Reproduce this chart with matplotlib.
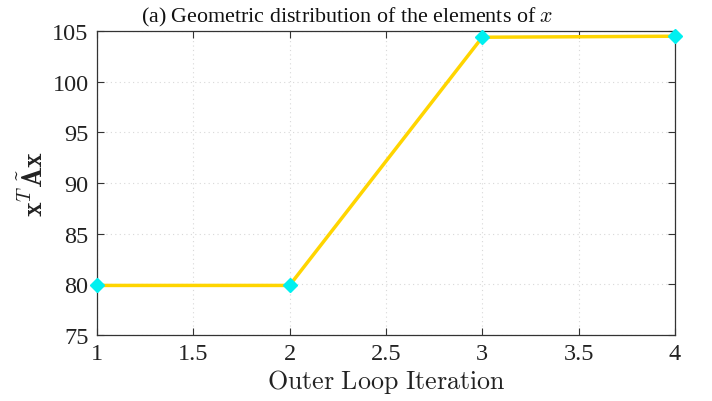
import matplotlib
matplotlib.use("Agg")
import matplotlib.pyplot as plt

iterations = [1, 2, 3, 4]
values = [79.9, 79.9, 104.4, 104.5]
xticks = [1, 1.5, 2, 2.5, 3, 3.5, 4]
xticklabels = ["1", "1.5", "2", "2.5", "3", "3.5", "4"]
yticks = [75, 80, 85, 90, 95, 100, 105]

plt.rcParams['font.family'] = ['Liberation Serif', 'DejaVu Serif']
plt.rcParams['mathtext.fontset'] = 'cm'

fig = plt.figure(figsize=(7.12, 4.02), dpi=100)
ax = fig.add_axes([0.136, 0.164, 0.812, 0.756])

ax.plot(iterations, values, color='#FFD500', lw=2.5, zorder=3)
ax.plot(iterations, values, ls='none', marker='D', ms=7, color='#00F0F0',
        markeredgecolor='#00F0F0', zorder=4, clip_on=False)

ax.set_xlim(1, 4)
ax.set_ylim(75, 105)
ax.set_xticks(xticks)
ax.set_xticklabels(xticklabels)
ax.set_yticks(yticks)
ax.tick_params(direction='in', labelsize=17.5, length=5, width=0.8, top=True, right=True,
               colors='#333333', labelcolor='#222222', pad=6)
ax.grid(True, ls=(0, (1, 3)), color='#d8d8d8', lw=0.8)
for s in ax.spines.values():
    s.set_color('#333333')
    s.set_linewidth(0.9)

ax.set_xlabel(r'$\mathrm{Outer\ Loop\ Iteration}$', fontsize=18.7, color='#222222', labelpad=2)
ax.set_ylabel(r'$\mathbf{x}^{T}\tilde{\mathbf{A}}\mathbf{x}$', fontsize=20, color='#222222', labelpad=2)
fig.text(347 / 712, 1 - 17 / 402, r'(a) Geometric distribution of the elements of $x$',
         fontsize=15.8, ha='center', va='center', color='#111111')

fig.savefig('out.png', dpi=100)
